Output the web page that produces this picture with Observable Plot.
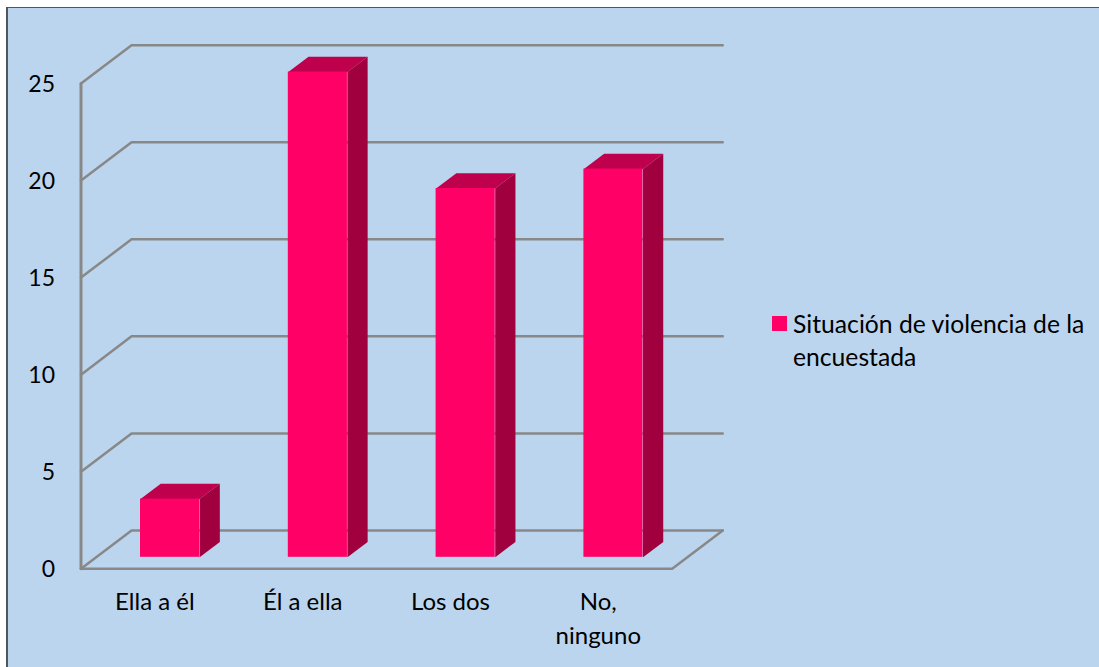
<!DOCTYPE html>
<html lang="es">
<head>
<meta charset="utf-8">
<script src="https://cdn.jsdelivr.net/npm/d3@7"></script>
<script src="https://cdn.jsdelivr.net/npm/@observablehq/plot@0.6"></script>
<style>
  html, body { margin: 0; padding: 0; background: #fff; overflow: hidden; }
  #panel { position: absolute; left: 6px; top: 7px; right: 0; bottom: 0; background: #bbd5ee;
           border-left: 2px solid #50565c; border-top: 1px solid #50565c; }
  #chart { position: absolute; left: 0; top: 0; }
  #chart svg { background: transparent; display: block; }
  #legend { position: absolute; left: 772px; top: 307px; width: 327px; font: 24.7px/33px Lato, sans-serif; color: #000; }
  #legend i { position: absolute; left: 0; top: 9px; width: 15px; height: 15px; background: #ff0066; }
  #legend span { display: block; margin-left: 21px; white-space: pre; }
</style>
</head>
<body>
<div id="panel"></div>
<div id="chart"></div>
<div id="legend"><i></i><span id="legend-text"></span></div>
<script>
const categories = ["Ella a él", "Él a ella", "Los dos", "No,\nninguno"];
const values = [3, 25, 19, 20];
const yTicks = [0, 5, 10, 15, 20, 25];
const seriesName = "Situación de violencia de la\nencuestada";

const colors = { front: "#ff0066", top: "#bf004d", side: "#a1003f", grid: "#888888" };

// oblique projection: depth in 0..1 shifts a point right and up, in data units
const depthX = 0.342, depthY = 1.974;
const px = (c, d = 0) => c + d * depthX;
const py = (v, d = 0) => v + d * depthY;
const barStart = 0.3, barEnd = 0.7, nearDepth = 0.3, farDepth = 0.7;
const n = categories.length;

const gridPaths = yTicks.flatMap(v => [
  {id: v, x: px(0), y: py(v)},
  {id: v, x: px(0, 1), y: py(v, 1)},
  {id: v, x: px(n, 1), y: py(v, 1)}
]);
const floorPath = [
  {x: px(0), y: py(0)}, {x: px(n), y: py(0)}, {x: px(n, 1), y: py(0, 1)}
];
const axisPath = [{x: px(0), y: 0}, {x: px(0), y: 25}];

const bars = values.map((v, i) => ({i, v, x1: i + barStart, x2: i + barEnd}));
const face = (kind) => bars.flatMap(b => {
  const pts = kind === "top"
    ? [[b.x1, nearDepth], [b.x1, farDepth], [b.x2, farDepth], [b.x2, nearDepth]].map(([c, d]) => ({x: px(c, d), y: py(b.v, d)}))
    : [[b.v, nearDepth], [b.v, farDepth], [0, farDepth], [0, nearDepth]].map(([v, d]) => ({x: px(b.x2, d), y: py(v, d)}));
  return pts.map(p => ({...p, id: b.i}));
});

const font = "Lato, sans-serif";
const plot = Plot.plot({
  width: 1099, height: 667,
  marginLeft: 80.5, marginRight: 427.3, marginTop: 83, marginBottom: 98.7,
  x: {type: "linear", domain: [0, n], axis: null},
  y: {type: "linear", domain: [0, 25], axis: null},
  style: {background: "transparent", overflow: "visible"},
  marks: [
    Plot.line(gridPaths, {x: "x", y: "y", z: "id", stroke: colors.grid, strokeWidth: 2.5, strokeLinejoin: "round"}),
    Plot.line(floorPath, {x: "x", y: "y", stroke: colors.grid, strokeWidth: 2.5, strokeLinejoin: "round"}),
    Plot.line(axisPath, {x: "x", y: "y", stroke: colors.grid, strokeWidth: 3}),
    Plot.line(face("top"), {x: "x", y: "y", z: "id", fill: colors.top, stroke: "none"}),
    Plot.line(face("side"), {x: "x", y: "y", z: "id", fill: colors.side, stroke: "none"}),
    Plot.rect(bars, {
      x1: b => px(b.x1, nearDepth), x2: b => px(b.x2, nearDepth),
      y1: () => py(0, nearDepth), y2: b => py(b.v, nearDepth), fill: colors.front
    }),
    Plot.text(yTicks, {x: () => 0, y: d => d, text: d => String(d), textAnchor: "end", dx: -26, dy: 1,
      fontSize: 23, fontFamily: font, fill: "#000"}),
    Plot.text(categories, {x: (d, i) => i + 0.5, y: () => 0, text: d => d, lineAnchor: "top", dy: 18,
      lineHeight: 1.39, fontSize: 24, fontFamily: font, fill: "#000"})
  ]
});
document.getElementById("chart").appendChild(plot);
document.getElementById("legend-text").textContent = seriesName;
</script>
</body>
</html>
